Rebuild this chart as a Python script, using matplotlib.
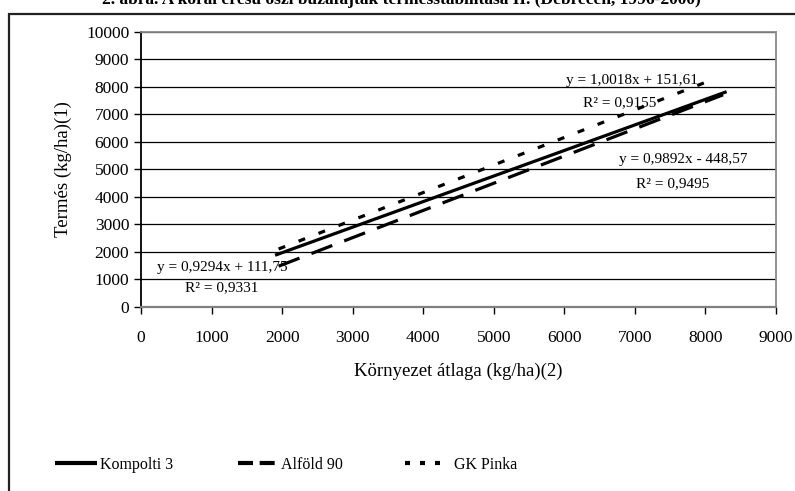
import matplotlib
matplotlib.use("Agg")
import matplotlib.pyplot as plt
from matplotlib.lines import Line2D
from matplotlib.patches import Rectangle

plt.rcParams["font.family"] = ["Liberation Serif", "DejaVu Serif"]

# Data: trend line end points (x, y) read from the regression equations
varieties = ["Kompolti 3", "Alföld 90", "GK Pinka"]
kompolti_x = [1900, 8300]
kompolti_y = [1878, 7826]
alfold_x = [1950, 8250]
alfold_y = [1480, 7712]
pinka_x = [1950, 8100]
pinka_y = [2105, 8266]

equations = ["y = 0,9294x + 111,75", "y = 0,9892x - 448,57", "y = 1,0018x + 151,61"]
r2_labels = ["R² = 0,9331", "R² = 0,9495", "R² = 0,9155"]
eq_pos = [(1150, 1430), (7680, 5370), (6960, 8240)]
r2_pos = [(1150, 700), (7530, 4480), (6790, 7430)]

x_ticks = list(range(0, 10000, 1000))
y_ticks = list(range(0, 11000, 1000))

fig = plt.figure(figsize=(7.95, 4.91), dpi=100)
ax = fig.add_axes([0.1774, 0.375, 0.7987, 0.56])

ax.plot(kompolti_x, kompolti_y, color="black", lw=2.3, solid_capstyle="butt")
ax.plot(alfold_x, alfold_y, color="black", lw=2.3, dashes=(7, 4),
        dash_capstyle="butt")
ax.plot(pinka_x, pinka_y, color="black", lw=2.3, dashes=(2.2, 4.5),
        dash_capstyle="butt")

for txt, (x, y) in zip(equations, eq_pos):
    ax.text(x, y, txt, ha="center", va="center", fontsize=11)
for txt, (x, y) in zip(r2_labels, r2_pos):
    ax.text(x, y, txt, ha="center", va="center", fontsize=11)

ax.set_xlim(0, 9000)
ax.set_ylim(0, 10000)
ax.set_xticks(x_ticks)
ax.set_yticks(y_ticks)
ax.tick_params(labelsize=12.5, direction="out", length=5, width=1, colors="black")
ax.tick_params(axis="x", pad=12)
ax.yaxis.grid(True, color="black", lw=0.9)
ax.set_axisbelow(True)

ax.spines["left"].set_color("black")
ax.spines["left"].set_linewidth(1.3)
ax.spines["bottom"].set_color("#7f7f7f")
ax.spines["bottom"].set_linewidth(1.6)
ax.spines["top"].set_color("#8a8a8a")
ax.spines["top"].set_linewidth(1.3)
ax.spines["right"].set_color("#8a8a8a")
ax.spines["right"].set_linewidth(1.3)

ax.set_xlabel("Környezet átlaga (kg/ha)(2)", fontsize=13.5, labelpad=12)
ax.set_ylabel("Termés (kg/ha)(1)", fontsize=13.5, labelpad=10)

# legend: one entry per position, spread across the bottom
handles = [
    Line2D([], [], color="black", lw=3, solid_capstyle="butt"),
    Line2D([], [], color="black", lw=3, dashes=(3.6, 1.6), dash_capstyle="butt"),
    Line2D([], [], color="black", lw=3, dashes=(1.2, 2.4), dash_capstyle="butt"),
]
leg_x = [55 / 795, 238 / 795, 405 / 795]
text_pad = [0.2, 0.1, 0.45]
for handle, name, lx, tp in zip(handles, varieties, leg_x, text_pad):
    fig.legend([handle], [name], loc="center left",
               bbox_to_anchor=(lx, 0.053), frameon=False, fontsize=11.5,
               handlelength=2.6, handletextpad=tp, borderpad=0,
               borderaxespad=0)

# outer frame and clipped caption
fig.patches.append(Rectangle((9 / 795, -0.1), 1.0, 1.1 - 14 / 491,
                             transform=fig.transFigure, fill=False,
                             edgecolor="#222222", lw=1.6))
fig.text(0.505, 1.0, "2. ábra. A korai érésű őszi búzafajták termésstabilitása II. (Debrecen, 1996-2000)",
         ha="center", va="center", fontsize=12.5, fontweight="bold")

fig.savefig("out.png", dpi=100)
